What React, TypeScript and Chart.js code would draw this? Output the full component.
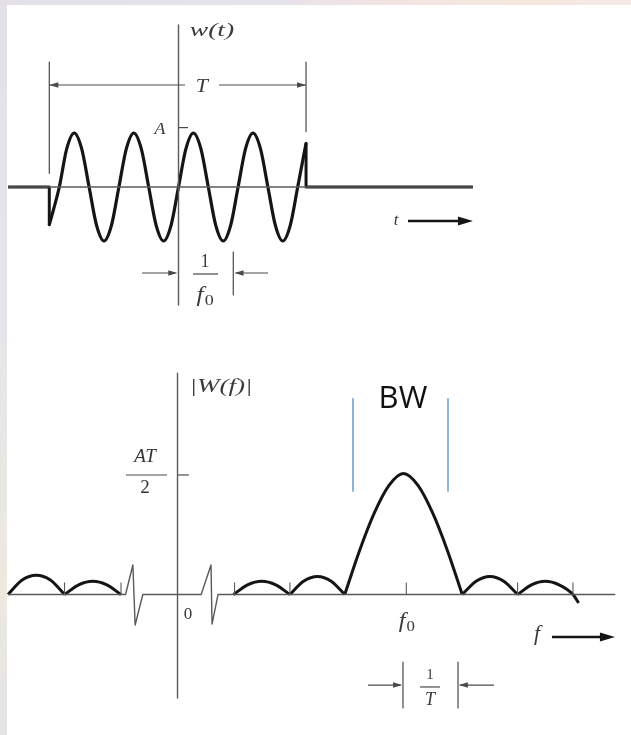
import React, { useEffect, useRef } from "react";
import { Chart, registerables } from "chart.js";
Chart.register(...registerables);

// ---------------- top panel: w(t) ----------------
// time in units of 1/f0 (0 = vertical axis), amplitude in units of A
const waveT = [-2.168, -2.0, -1.875, -1.75, -1.625, -1.5, -1.375, -1.25, -1.125, -1.0, -0.875, -0.75, -0.625, -0.5, -0.375, -0.25, -0.125, 0, 0.125, 0.25, 0.375, 0.5, 0.625, 0.75, 0.875, 1.0, 1.125, 1.25, 1.375, 1.5, 1.625, 1.75, 1.875, 2.0, 2.14];
const waveW = [-0.7, 0, 0.71, 1, 0.71, 0, -0.71, -1, -0.71, 0, 0.71, 1, 0.71, 0, -0.71, -1, -0.71, 0, 0.71, 1, 0.71, 0, -0.71, -1, -0.71, 0, 0.71, 1, 0.71, 0, -0.71, -1, -0.71, 0, 0.81];
const leadT = [-2.86, -2.168, -2.168];
const leadW = [0, 0, -0.7];
const tailT = [2.14, 2.14, 4.94];
const tailW = [0.81, 0, 0];

// ---------------- bottom panel: |W(f)| ----------------
// frequency in units of 1/T (0 = vertical axis), magnitude in units of AT/2
const lobeFreqs = [
  [-3.0, -2.75, -2.5, -2.25, -2.0],
  [-2.0, -1.75, -1.5, -1.25, -1.0],
  [0.99, 1.24, 1.49, 1.74, 1.99],
  [1.99, 2.23, 2.48, 2.72, 2.96],
  [2.96, 3.22, 3.48, 3.74, 4.0, 4.26, 4.52, 4.78, 5.04],
  [5.04, 5.285, 5.53, 5.775, 6.02],
  [6.02, 6.265, 6.51, 6.755, 7.0, 7.1],
];
const lobeMags = [
  [0, 0.12, 0.16, 0.12, 0],
  [0, 0.08, 0.11, 0.08, 0],
  [0, 0.08, 0.11, 0.08, 0],
  [0, 0.11, 0.15, 0.11, 0],
  [0, 0.36, 0.67, 0.9, 1, 0.9, 0.67, 0.36, 0],
  [0, 0.11, 0.15, 0.11, 0],
  [0, 0.08, 0.11, 0.08, 0, -0.07],
];
const freqTicks = [-2, -1, 1.01, 1.99, 4.05, 6.02, 7.0];

// scale windows (data units spanning each canvas)
const TOP = { xMin: -2.995, xMax: 7.592, yMin: -2.463, yMax: 3.463 };
const BOT = { xMin: -3.142, xMax: 8.027, yMin: -1.161, yMax: 2.269 };

const INK = "#151515";
const AXIS = "#5a5a5a";
const DIM = "#4a4a4a";
const BWBLUE = "#8fb2dd";
const SERIF = '"Liberation Serif", "Times New Roman", serif';

type Pt = [number, number];
const line = (pts: Pt[], width: number, color: string, smooth = false) => ({
  data: pts.map(([x, y]) => ({ x, y })),
  borderColor: color,
  borderWidth: width,
  pointRadius: 0,
  fill: false,
  tension: 0,
  cubicInterpolationMode: smooth ? "monotone" : "default",
  clip: false,
  borderCapStyle: "butt",
  borderJoinStyle: "round",
});
const zipPts = (xs: number[], ys: number[]): Pt[] => xs.map((x, i) => [x, ys[i]]);

type Label = { text: string; sub?: string; x: number; y: number; size: number; sx?: number; italic?: boolean; bold?: boolean; family?: string; color?: string };
type Head = { x: number; y: number; dir: number; len: number; half: number; color: string };

const overlay = (labels: Label[], heads: Head[]) => ({
  id: "overlay",
  afterDatasetsDraw(chart: any) {
    const { ctx, scales } = chart;
    const xs = scales.x;
    const ys = scales.y;
    ctx.save();
    for (const h of heads) {
      const px = xs.getPixelForValue(h.x);
      const py = ys.getPixelForValue(h.y);
      ctx.fillStyle = h.color;
      ctx.beginPath();
      ctx.moveTo(px, py);
      ctx.lineTo(px - h.dir * h.len, py - h.half);
      ctx.lineTo(px - h.dir * h.len, py + h.half);
      ctx.closePath();
      ctx.fill();
    }
    for (const l of labels) {
      const px = xs.getPixelForValue(l.x);
      const py = ys.getPixelForValue(l.y);
      const style = l.italic === false ? "" : "italic ";
      const weight = l.bold ? "bold " : "";
      const fam = l.family || SERIF;
      const mainFont = `${style}${weight}${l.size}px ${fam}`;
      const subSize = Math.round(l.size * 0.7);
      const subFont = `${weight}${subSize}px ${fam}`;
      ctx.font = mainFont;
      const w1 = ctx.measureText(l.text).width;
      let w2 = 0;
      if (l.sub) {
        ctx.font = subFont;
        w2 = ctx.measureText(l.sub).width + 1;
      }
      ctx.save();
      ctx.translate(px, py);
      ctx.scale(l.sx || 1, 1);
      ctx.fillStyle = l.color || "#3a3a3a";
      ctx.textBaseline = "middle";
      ctx.textAlign = "left";
      const start = -(w1 + w2) / 2;
      ctx.font = mainFont;
      ctx.fillText(l.text, start, 0);
      if (l.sub) {
        ctx.font = subFont;
        ctx.fillText(l.sub, start + w1 + 1, l.size * 0.28);
      }
      ctx.restore();
    }
    ctx.restore();
  },
});

const topLabels: Label[] = [
  { text: "w(t)", x: 0.562, y: 2.88, size: 19, sx: 1.45 },
  { text: "T", x: 0.39, y: 1.86, size: 19, sx: 1.15 },
  { text: "A", x: -0.31, y: 1.06, size: 17, sx: 1.05 },
  { text: "1", x: 0.445, y: -1.39, size: 18, italic: false },
  { text: "f", sub: "0", x: 0.445, y: -2.0, size: 21, sx: 1.2 },
  { text: "t", x: 3.649, y: -0.63, size: 17 },
];
const topHeads: Head[] = [
  { x: -2.168, y: 1.889, dir: -1, len: 9, half: 2.8, color: DIM },
  { x: 2.14, y: 1.889, dir: 1, len: 9, half: 2.8, color: DIM },
  { x: -0.02, y: -1.593, dir: 1, len: 9, half: 2.8, color: DIM },
  { x: 0.94, y: -1.593, dir: -1, len: 9, half: 2.8, color: DIM },
  { x: 4.94, y: -0.63, dir: 1, len: 15, half: 4.5, color: INK },
];
const botLabels: Label[] = [
  { text: "|W(f)|", x: 0.77, y: 1.715, size: 18, sx: 1.5 },
  { text: "AT", x: -0.575, y: 1.136, size: 19, color: "#333" },
  { text: "2", x: -0.575, y: 0.88, size: 19, italic: false, color: "#333" },
  { text: "0", x: 0.186, y: -0.169, size: 17, italic: false },
  { text: "f", sub: "0", x: 4.06, y: -0.227, size: 20, sx: 1.2 },
  { text: "f", x: 6.363, y: -0.335, size: 20, sx: 1.1 },
  { text: "BW", x: 3.99, y: 1.612, size: 31, italic: false, family: '"Open Sans", "Liberation Sans", sans-serif', color: "#111" },
  { text: "1", x: 4.469, y: -0.665, size: 15, italic: false },
  { text: "T", x: 4.469, y: -0.872, size: 18 },
];
const botHeads: Head[] = [
  { x: 7.743, y: -0.351, dir: 1, len: 15, half: 4.5, color: INK },
  { x: 3.975, y: -0.748, dir: 1, len: 9, half: 2.8, color: DIM },
  { x: 4.98, y: -0.748, dir: -1, len: 9, half: 2.8, color: DIM },
];

function buildTop() {
  return [
    line([[-2.86, 0], [4.94, 0]], 1.4, AXIS),
    line([[0, 3.0], [0, -2.185]], 1.4, AXIS),
    line([[-2.168, 2.315], [-2.168, 0.254]], 1.2, DIM),
    line([[2.14, 2.315], [2.14, 1.024]], 1.2, DIM),
    line([[-2.168, 1.889], [0.11, 1.889]], 1.2, DIM),
    line([[0.68, 1.889], [2.14, 1.889]], 1.2, DIM),
    line([[0, 1.1], [0.16, 1.1]], 1.2, DIM),
    line([[-0.612, -1.593], [-0.05, -1.593]], 1.2, DIM),
    line([[0.919, -1.204], [0.919, -2.0]], 1.2, DIM),
    line([[1.502, -1.593], [0.96, -1.593]], 1.2, DIM),
    line([[0.243, -1.611], [0.663, -1.611]], 1.2, DIM),
    line([[3.85, -0.63], [4.75, -0.63]], 2.6, INK),
    line(zipPts(leadT, leadW), 3, INK),
    line(zipPts(tailT, tailW), 3, INK),
    line(zipPts(waveT, waveW), 3.2, INK, true),
  ];
}

function buildBottom() {
  const ds: any[] = [
    line([[-3.0, 0], [-0.92, 0], [-0.79, 0.244], [-0.75, -0.252], [-0.614, 0], [0.419, 0], [0.593, 0.244], [0.611, -0.244], [0.717, 0], [7.75, 0]], 1.4, AXIS),
    line([[0, 1.83], [0, -0.855]], 1.4, AXIS),
    line([[0, 0.988], [0.2, 0.988]], 1.2, DIM),
    line([[-0.912, 0.988], [-0.186, 0.988]], 1.2, DIM),
    line([[3.106, 1.616], [3.106, 0.855]], 2, BWBLUE),
    line([[4.788, 1.616], [4.788, 0.855]], 2, BWBLUE),
    line([[6.628, -0.351], [7.55, -0.351]], 2.6, INK),
    line([[3.372, -0.748], [3.95, -0.748]], 1.2, DIM),
    line([[3.991, -0.558], [3.991, -0.938]], 1.2, DIM),
    line([[4.965, -0.558], [4.965, -0.938]], 1.2, DIM),
    line([[5.602, -0.748], [5.0, -0.748]], 1.2, DIM),
    line([[4.292, -0.764], [4.646, -0.764]], 1.2, DIM),
  ];
  for (const f of freqTicks) ds.push(line([[f, 0], [f, 0.1]], 1.1, AXIS));
  lobeFreqs.forEach((fs, i) => ds.push(line(zipPts(fs, lobeMags[i]), 3, INK, true)));
  return ds;
}

function makeChart(canvas: HTMLCanvasElement, datasets: any[], win: typeof TOP, labels: Label[], heads: Head[]) {
  return new Chart(canvas, {
    type: "line",
    data: { datasets },
    options: {
      responsive: false,
      maintainAspectRatio: false,
      animation: false,
      events: [],
      layout: { padding: 0 },
      plugins: { legend: { display: false }, tooltip: { enabled: false } },
      scales: {
        x: { type: "linear", min: win.xMin, max: win.xMax, display: false },
        y: { type: "linear", min: win.yMin, max: win.yMax, display: false },
      },
    },
    plugins: [overlay(labels, heads)],
  } as any);
}

export default function App() {
  const topRef = useRef<HTMLCanvasElement>(null);
  const botRef = useRef<HTMLCanvasElement>(null);
  useEffect(() => {
    document.body.style.margin = "0";
    const a = makeChart(topRef.current!, buildTop(), TOP, topLabels, topHeads);
    const b = makeChart(botRef.current!, buildBottom(), BOT, botLabels, botHeads);
    return () => {
      a.destroy();
      b.destroy();
    };
  }, []);
  return (
    <div style={{ position: "absolute", left: 0, top: 0, width: 631, height: 735, overflow: "hidden", background: "linear-gradient(to bottom, #e3e0e8 0%, #e7e5e9 45%, #ebe9df 80%, #e6e3e7 100%)" }}>
      <div style={{ position: "absolute", left: 0, top: 0, width: 631, height: 5, background: "linear-gradient(to right, #e2dfe7 0%, #e6e3e9 45%, #efe3e6 55%, #f4e7df 75%, #f5ebe4 100%)" }} />
      <div style={{ position: "absolute", left: 7, top: 5, right: 0, bottom: 0, background: "#ffffff" }} />
      <canvas ref={topRef} width={631} height={320} style={{ position: "absolute", left: 0, top: 0 }} />
      <canvas ref={botRef} width={631} height={415} style={{ position: "absolute", left: 0, top: 320 }} />
    </div>
  );
}
